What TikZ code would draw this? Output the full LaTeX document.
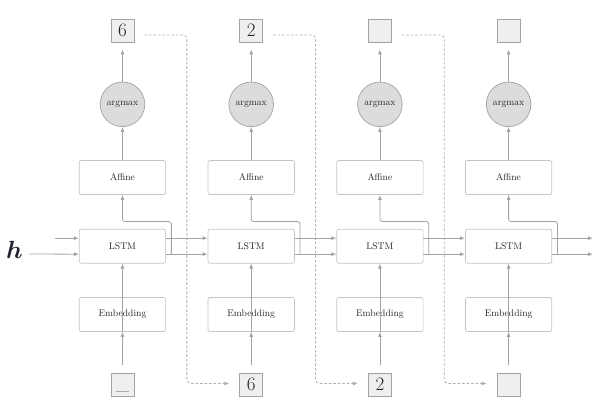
\documentclass[tikz,border=0pt]{standalone}
\usepackage{fontspec}
\usepackage{amsmath,bm}
\usetikzlibrary{arrows.meta,calc}
\definecolor{lnc}{HTML}{A3A3A3}
\definecolor{bxc}{HTML}{C4C4C4}
\definecolor{cfill}{HTML}{DCDCDC}
\definecolor{sfill}{HTML}{EFEFEF}
\definecolor{txc}{HTML}{22222E}
\definecolor{dsc}{HTML}{AEAEAE}
\tikzset{
  layerbox/.style={draw=bxc, line width=0.7pt, rounded corners=2pt, minimum width=86.4pt, minimum height=34pt, inner sep=0pt, text=txc, font=\fontsize{9.6}{11}\selectfont},
  amax/.style={circle, draw=lnc, fill=cfill, line width=0.7pt, minimum size=44.6pt, inner sep=0pt, text=txc, font=\fontsize{9.6}{11}\selectfont},
  tok/.style={draw=lnc, fill=sfill, line width=0.7pt, minimum size=23.2pt, inner sep=0pt, text=txc, font=\fontsize{19}{20}\selectfont},
  conn/.style={draw=lnc, line width=0.8pt, -{Latex[length=5pt,width=4pt]}},
  feed/.style={draw=dsc, line width=0.8pt, dash pattern=on 2.5pt off 2pt, rounded corners=4pt, -{Latex[length=5pt,width=4pt]}},
}
\begin{document}
\begin{tikzpicture}[x=1pt,y=-1pt]
\useasboundingbox (0,0) rectangle (600,412);
\foreach \i/\top/\bot in {1/6/\_,2/2/6,3//2,4//} {
  \pgfmathsetmacro{\cx}{122.5+128.7*(\i-1)}
  \node[tok] (T\i) at (\cx,30.5) {\vphantom{0}\top};
  \node[amax] (M\i) at (\cx,104.3) {argmax};
  \node[layerbox] (A\i) at (\cx,177.5) {Affine};
  \node[layerbox] (L\i) at (\cx,246.2) {LSTM};
  \node[layerbox] (E\i) at (\cx,314.5) {Embedding};
  \node[tok] (B\i) at (\cx,384.5) {\vphantom{0}\bot};
  \draw[conn] (B\i.north) ++(0,-8) -- (E\i.south);
  \draw[conn] (E\i.south) -- (L\i.south);
  \draw[conn] (A\i.north) -- (M\i.south);
  \draw[conn, shorten >=7pt] (M\i.north) -- (T\i.south);
  \draw[conn, rounded corners=2.5pt] ($(L\i.east)+(5.3,8)$) |- ($(L\i.north)+(0,-7.3)$) -- (A\i.south);
}
% h input
\node[text=txc, font=\fontsize{28}{30}\selectfont, inner sep=0pt] (hin) at (14.5,250) {$\bm{h}$};
\coordinate (c0) at (55,238.2);
\draw[conn] (c0) -- (c0 -| L1.west);
\draw[conn] ($(hin.east)+(6,4)$) -- ($(L1.west)+(0,8)$);
% recurrent connections
\foreach \a/\b in {1/2,2/3,3/4} {
  \draw[conn] ($(L\a.east)+(0,-8)$) -- ($(L\b.west)+(0,-8)$);
  \draw[conn] ($(L\a.east)+(0,8)$) -- ($(L\b.west)+(0,8)$);
  \coordinate (m\a) at ($(T\a)!0.5!(T\b)$);
  \draw[feed] ($(T\a.east)+(10,4.5)$) -| ($(m\a |- B\b.west)+(0,-1)$) -- ($(B\b.west)+(-10,-1)$);
}
% outputs of last column
\coordinate (o1) at (593,238.2);
\coordinate (o2) at (593,254.2);
\draw[conn] ($(L4.east)+(0,-8)$) -- (o1);
\draw[conn] ($(L4.east)+(0,8)$) -- (o2);
\end{tikzpicture}
\end{document}
